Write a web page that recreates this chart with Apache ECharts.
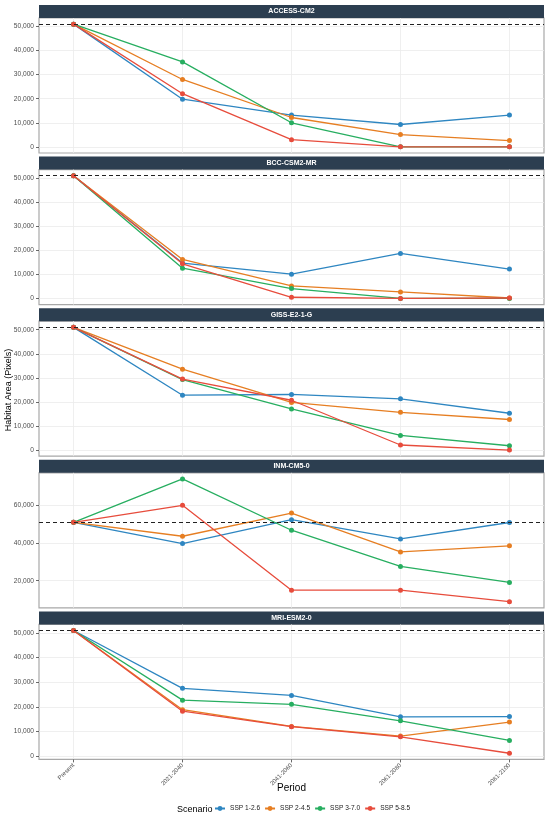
<!DOCTYPE html>
<html>
<head>
<meta charset="utf-8">
<script src="https://cdn.jsdelivr.net/npm/echarts@6/dist/echarts.min.js"></script>
<style>
html,body{margin:0;padding:0;background:#fff;}
#chart{width:550px;height:825px;}
</style>
</head>
<body>
<div id="chart"></div>
<script>
// ---- data ----
const categories = ['Present', '2021-2040', '2041-2060', '2061-2080', '2081-2100'];
const models = ['ACCESS-CM2', 'BCC-CSM2-MR', 'GISS-E2-1-G', 'INM-CM5-0', 'MRI-ESM2-0'];
const scenarios = ['SSP 1-2.6', 'SSP 2-4.5', 'SSP 3-7.0', 'SSP 5-8.5'];
const presentBaseline = [51000, 51000, 51000, 51000, 51000];

// rows: SSP 1-2.6, SSP 2-4.5, SSP 3-7.0, SSP 5-8.5 ; columns follow categories
const accessCM2 = [
  [51000, 19800, 13200, 9300, 13200],
  [51000, 28000, 12200, 5100, 2600],
  [51000, 35300, 10000, 0, 0],
  [51000, 22100, 3000, 0, 0]
];
const bccCSM2MR = [
  [51000, 14700, 10100, 18700, 12200],
  [51000, 16200, 5200, 2700, 200],
  [51000, 12600, 4100, 0, 0],
  [51000, 14400, 500, 0, 200]
];
const gissE21G = [
  [51000, 22800, 23100, 21300, 15300],
  [51000, 33600, 19800, 15700, 12700],
  [51000, 29300, 17100, 6100, 1800],
  [51000, 29500, 20700, 2100, 0]
];
const inmCM50 = [
  [51000, 39700, 52400, 42200, 50900],
  [51000, 43600, 55900, 35300, 38500],
  [51000, 74000, 46800, 27600, 19100],
  [51000, 60000, 15000, 15000, 8900]
];
const mriESM20 = [
  [51000, 27500, 24600, 15900, 16000],
  [51000, 18800, 12000, 8100, 13800],
  [51000, 22700, 21000, 14300, 6300],
  [51000, 18200, 11900, 7800, 1100]
];
const yTicksStd = [0, 10000, 20000, 30000, 40000, 50000];
const yTicksINM = [20000, 40000, 60000];

const modelData = [accessCM2, bccCSM2MR, gissE21G, inmCM50, mriESM20];
const modelTicks = [yTicksStd, yTicksStd, yTicksStd, yTicksINM, yTicksStd];

// ---- style / layout ----
const colors = ['#2E86C1', '#E67E22', '#27AE60', '#E74C3C'];
const stripColor = '#2C3E50';
const FONT = 'Liberation Sans, Arial, sans-serif';
const L = 39, W = 505, PH = 135, SH = 13, PITCH = 151.6, TOP0 = 18;

const grids = [], xAxes = [], yAxes = [], series = [], graphics = [];

models.forEach((m, i) => {
  const top = TOP0 + i * PITCH;
  grids.push({ left: L, top: top, width: W, height: PH, show: true,
    containLabel: false, outerBoundsMode: 'none',
    borderColor: '#a8a8a8', borderWidth: 1.2, backgroundColor: '#fff' });
  const isBottom = i === models.length - 1;
  xAxes.push({
    type: 'value', gridIndex: i, min: -0.317, max: 4.317,
    minInterval: 1, maxInterval: 1,
    axisLine: { show: false, onZero: false },
    axisTick: { show: isBottom, length: 3, lineStyle: { color: '#444', width: 0.8 },
      customValues: [0, 1, 2, 3, 4] },
    axisLabel: { show: isBottom, rotate: 45, fontSize: 6, color: '#4d4d4d', fontFamily: FONT,
      margin: 5, customValues: [0, 1, 2, 3, 4],
      formatter: v => (Number.isInteger(v) ? categories[v] : '') },
    splitLine: { show: true, lineStyle: { color: '#ebebeb', width: 0.8 } }
  });
  const d = modelData[i];
  const all = d.flat().concat([presentBaseline[i]]);
  const dmin = Math.min(...all), dmax = Math.max(...all);
  const span = dmax - dmin;
  const ticks = modelTicks[i];
  const step = ticks[1] - ticks[0];
  yAxes.push({
    type: 'value', gridIndex: i,
    min: dmin - 0.05 * span, max: dmax + 0.05 * span,
    minInterval: step, maxInterval: step,
    axisLine: { show: false, onZero: false },
    axisTick: { show: true, length: 3, lineStyle: { color: '#444', width: 0.8 }, customValues: ticks },
    axisLabel: { fontSize: 6.6, color: '#4d4d4d', fontFamily: FONT, margin: 5, customValues: ticks,
      formatter: v => v.toLocaleString('en-US') },
    splitLine: { show: true, lineStyle: { color: '#ebebeb', width: 0.8 } }
  });
  scenarios.forEach((s, k) => {
    const ser = {
      type: 'line', name: s, xAxisIndex: i, yAxisIndex: i,
      data: d[k].map((v, j) => [j, v]),
      color: colors[k],
      symbol: 'circle', symbolSize: 5, showSymbol: true,
      lineStyle: { width: 1.3, color: colors[k] },
      itemStyle: { color: colors[k] },
      silent: true, z: 3 + k
    };
    if (k === 0) {
      ser.markLine = { silent: true, symbol: 'none', label: { show: false },
        lineStyle: { type: [4, 3], color: '#222', width: 1.2 },
        data: [{ yAxis: presentBaseline[i] }], z: 10 };
    }
    series.push(ser);
  });
  graphics.push({ type: 'rect', shape: { x: L, y: top - SH, width: W, height: SH },
    style: { fill: stripColor }, silent: true });
  graphics.push({ type: 'text', x: L + W / 2, y: top - SH / 2,
    style: { text: m, fill: '#fff', font: 'bold 7px ' + FONT, textAlign: 'center', textVerticalAlign: 'middle' },
    silent: true });
});

// axis titles and legend title
graphics.push({ type: 'text', x: 9, y: 390, rotation: Math.PI / 2,
  style: { text: 'Habitat Area (Pixels)', fill: '#000', font: '9px ' + FONT, textAlign: 'center', textVerticalAlign: 'middle' } });
graphics.push({ type: 'text', x: L + W / 2, y: 788,
  style: { text: 'Period', fill: '#000', font: '10px ' + FONT, textAlign: 'center', textVerticalAlign: 'middle' } });
graphics.push({ type: 'text', x: 177, y: 810,
  style: { text: 'Scenario', fill: '#000', font: '9px ' + FONT, textAlign: 'left', textVerticalAlign: 'middle' } });

const chart = echarts.init(document.getElementById('chart'), null, { renderer: 'canvas' });
chart.setOption({
  animation: false,
  backgroundColor: '#fff',
  grid: grids, xAxis: xAxes, yAxis: yAxes, series: series,
  legend: { data: scenarios, left: 214, top: 805, padding: 0, itemWidth: 10, itemHeight: 6, itemGap: 4,
    textStyle: { fontSize: 6.6, color: '#222', fontFamily: FONT }, selectedMode: false },
  graphic: graphics
});
</script>
</body>
</html>
